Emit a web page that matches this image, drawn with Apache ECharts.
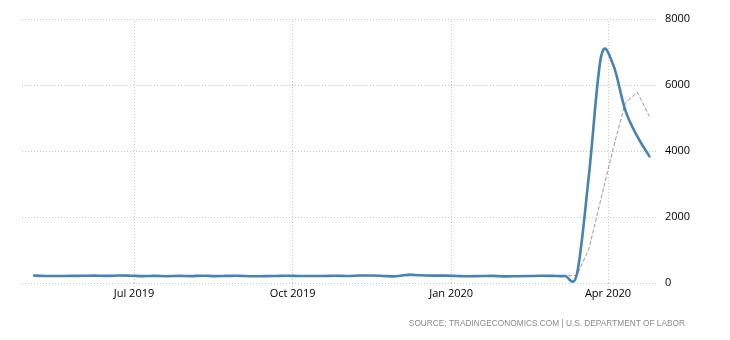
<!DOCTYPE html>
<html>
<head>
<meta charset="utf-8">
<script src="https://cdn.jsdelivr.net/npm/echarts@6/dist/echarts.min.js"></script>
<style>
html,body{margin:0;padding:0;background:#fff;}
#chart{width:730px;height:340px;}
</style>
</head>
<body>
<div id="chart"></div>
<script>
const dates = [
 '2019-05-04','2019-05-11','2019-05-18','2019-05-25','2019-06-01','2019-06-08','2019-06-15','2019-06-22','2019-06-29',
 '2019-07-06','2019-07-13','2019-07-20','2019-07-27','2019-08-03','2019-08-10','2019-08-17','2019-08-24','2019-08-31',
 '2019-09-07','2019-09-14','2019-09-21','2019-09-28','2019-10-05','2019-10-12','2019-10-19','2019-10-26',
 '2019-11-02','2019-11-09','2019-11-16','2019-11-23','2019-11-30','2019-12-07','2019-12-14','2019-12-21','2019-12-28',
 '2020-01-04','2020-01-11','2020-01-18','2020-01-25','2020-02-01','2020-02-08','2020-02-15','2020-02-22','2020-02-29',
 '2020-03-07','2020-03-14','2020-03-21','2020-03-28','2020-04-04','2020-04-11','2020-04-18','2020-04-25'
];
const actual = [
 228,212,211,215,218,222,216,227,221,
 209,216,206,215,209,220,209,215,217,
 204,208,213,219,210,214,212,218,
 211,225,227,213,203,252,234,224,222,
 214,204,211,216,202,205,210,219,216,
 211,282,3307,6867,6615,5237,4442,3839
];
const forecast = [
 215,220,215,215,215,215,220,220,223,
 223,216,218,214,215,212,216,214,215,
 215,213,212,215,220,215,215,215,
 215,215,219,220,215,214,225,225,220,
 220,216,214,215,215,210,210,212,215,
 218,230,1050,2570,4080,5450,5780,5050
];
const tickDates = ['2019-07-01','2019-10-01','2020-01-01','2020-04-01'];
const xMin = '2019-04-27';
const xMax = '2020-04-30';
const yTicks = [0,2000,4000,6000,8000];
const sourceText = 'SOURCE: TRADINGECONOMICS.COM | U.S. DEPARTMENT OF LABOR';

const MONTHS = ['Jan','Feb','Mar','Apr','May','Jun','Jul','Aug','Sep','Oct','Nov','Dec'];
const ts = d => new Date(d + 'T00:00:00Z').getTime();
const actualData = dates.map((d,i)=>[ts(d), actual[i]]);
const forecastData = dates.map((d,i)=>[ts(d), forecast[i]]);

// Catmull-Rom style smooth path through the points, positioned by the chart's own coordinate system
function renderSpline(params, api){
  if (params.dataIndex !== 0) return null;
  const p = actualData.map(v => api.coord(v));
  const n = p.length;
  let d = 'M' + p[0][0] + ' ' + p[0][1];
  for (let i = 0; i < n - 1; i++) {
    const p0 = p[Math.max(i-1,0)], p1 = p[i], p2 = p[i+1], p3 = p[Math.min(i+2,n-1)];
    const c1x = p1[0] + (p2[0]-p0[0])/6, c1y = p1[1] + (p2[1]-p0[1])/6;
    const c2x = p2[0] - (p3[0]-p1[0])/6, c2y = p2[1] - (p3[1]-p1[1])/6;
    d += ' C' + c1x + ' ' + c1y + ' ' + c2x + ' ' + c2y + ' ' + p2[0] + ' ' + p2[1];
  }
  return {
    type:'path',
    shape:{pathData:d},
    style:{fill:'none', stroke:'#4682b4', lineWidth:2.6, lineJoin:'round', lineCap:'round'}
  };
}

const FONT = 'Open Sans';
const chart = echarts.init(document.getElementById('chart'), null, {renderer:'canvas'});
chart.setOption({
  animation:false,
  backgroundColor:'#fff',
  grid:{left:22,right:72,top:19,bottom:57,containLabel:false},
  xAxis:{
    type:'value',
    min:ts(xMin), max:ts(xMax),
    axisLine:{show:false},
    axisTick:{show:true, customValues:tickDates.map(ts), length:4, inside:false,
      lineStyle:{color:'#c8c8c8',type:[1,2],width:1}},
    splitLine:{show:false},
    axisLabel:{
      customValues:tickDates.map(ts),
      color:'#000', fontSize:11, fontFamily:FONT, margin:5,
      formatter:function(v){const d=new Date(v);return MONTHS[d.getUTCMonth()]+' '+d.getUTCFullYear();}
    }
  },
  yAxis:{
    type:'value', position:'right', min:yTicks[0], max:yTicks[yTicks.length-1], interval:2000,
    axisLine:{show:false}, axisTick:{show:false},
    splitLine:{show:true, lineStyle:{color:'#c8c8c8', type:[1,2], width:1}},
    axisLabel:{color:'#000', fontSize:11, fontFamily:FONT, margin:7, align:'left',
      formatter:function(v){return String(v);}}
  },
  graphic:[{
    type:'text', right:45, top:320,
    style:{text:sourceText, fill:'#8a8a8a', font:'8.3px "Liberation Sans"'}
  }],
  series:[
    {
      type:'line', name:'Forecast', data:forecastData,
      showSymbol:false, symbol:'none', smooth:false,
      lineStyle:{color:'#9a9a9a', width:1, type:[4,2]},
      z:2,
      markLine:{
        silent:true, symbol:['none','none'], label:{show:false},
        lineStyle:{color:'#c8c8c8', type:[1,2], width:1},
        data:tickDates.map(d=>({xAxis:ts(d)})),
        z:1
      }
    },
    {
      type:'custom', name:'Actual', data:actualData,
      encode:{x:0, y:1},
      renderItem:renderSpline,
      z:3
    }
  ]
});
</script>
</body>
</html>
